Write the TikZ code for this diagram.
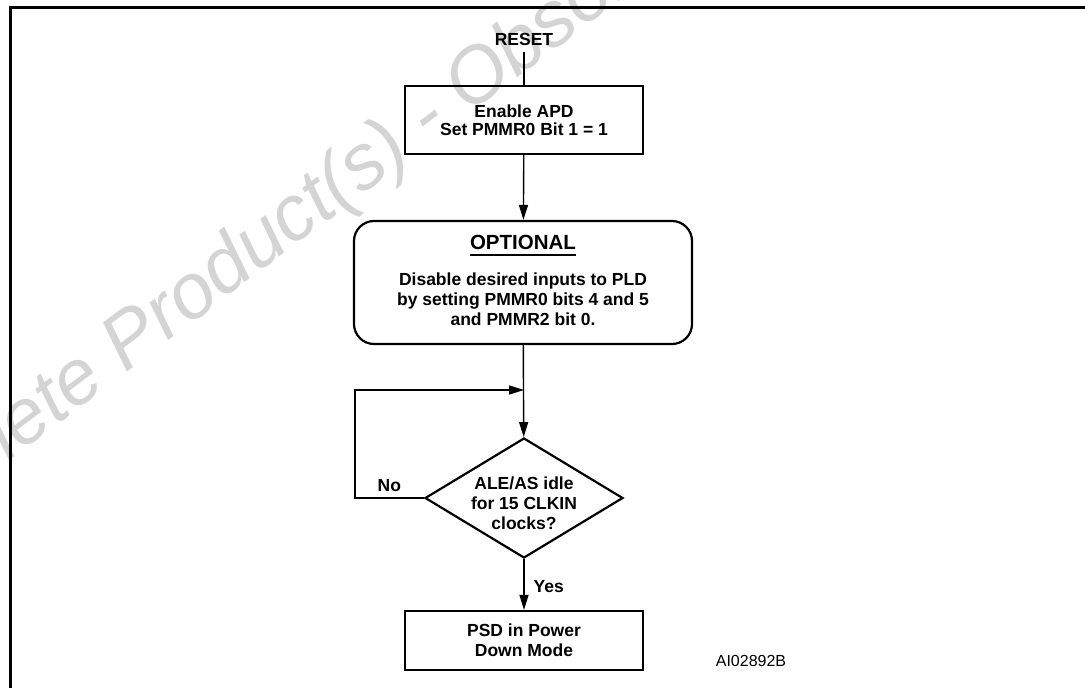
\documentclass[tikz,border=0pt]{standalone}
\usepackage{fontspec}
\setmainfont{Liberation Sans}
\usetikzlibrary{arrows.meta,shapes.geometric}
\begin{document}
\begin{tikzpicture}[x=1pt,y=-1pt,
  boxline/.style={draw=black,line width=2.2pt},
  bodyfont/.style={font=\fontsize{17.5}{18}\selectfont\bfseries},
  procbox/.style={boxline,rectangle,minimum width=238pt,inner sep=0pt,align=center,bodyfont},
  conn/.style={line width=1.4pt,-{Triangle[length=15pt,width=9pt]}},
  plainline/.style={line width=1.4pt},
  lbl/.style={font=\fontsize{17.5}{20}\selectfont\bfseries,inner sep=0pt,align=center},
]
\useasboundingbox (0,0) rectangle (1085,688);
% watermark
\begin{scope}
\clip (0,0) rectangle (1085,688);
\node[anchor=base west,rotate=37,text=black!17,font=\fontsize{78}{78}\selectfont\itshape,inner sep=0pt] (wm) at (-141,574) {Obsolete Product(s) - Obsolete Product(s)};
\end{scope}
% frame
\draw[line width=2.6pt] (10.7,690) -- (10.7,7.5) -- (1090,7.5);

% nodes
\node[lbl] (reset) at (524,39) {RESET};
\node[procbox,minimum height=68pt] (box1) at (524,120) {Enable APD\\Set PMMR0 Bit 1 = 1};
\node[boxline,rectangle,rounded corners=20pt,minimum width=338pt,minimum height=123pt,inner sep=0pt] (opt) at (523,282.5) {};
\node[inner sep=0pt,font=\fontsize{20.5}{20}\selectfont\bfseries] (opttitle) at (523,242) {OPTIONAL};
\draw[line width=2pt] ([yshift=-6pt]opttitle.base west) -- ([yshift=-6pt]opttitle.base east);
\node[lbl] (opttext) at (523,299) {Disable desired inputs to PLD\\by setting PMMR0 bits 4 and 5\\and PMMR2 bit 0.};
\node[boxline,diamond,minimum width=198pt,minimum height=120pt,inner sep=0pt] (dec) at (524,498) {};
\node[lbl] (dectext) at (524,503.5) {ALE/AS idle\\for 15 CLKIN\\clocks?};
\node[procbox,minimum height=59pt,font=\fontsize{17.5}{20}\selectfont\bfseries] (psd) at (524,640.5) {PSD in Power\\Down Mode};
\node[inner sep=0pt,font=\fontsize{16}{16}\selectfont] (code) at (751,660.5) {AI02892B};
\coordinate (join) at (524,390);

% connectors
\draw[plainline,shorten <=7pt] (reset) -- (box1);
\draw[conn] (box1) -- (opt);
\draw[conn] (opt) -- (dec);
\draw[conn] (dec) -- node[lbl,right=9pt,pos=0.54] (yes) {Yes} (psd);
\draw[conn] (dec.west) -- node[lbl,above=6pt,midway] (no) {No} ++(-69,0) |- (join);
\end{tikzpicture}
\end{document}
